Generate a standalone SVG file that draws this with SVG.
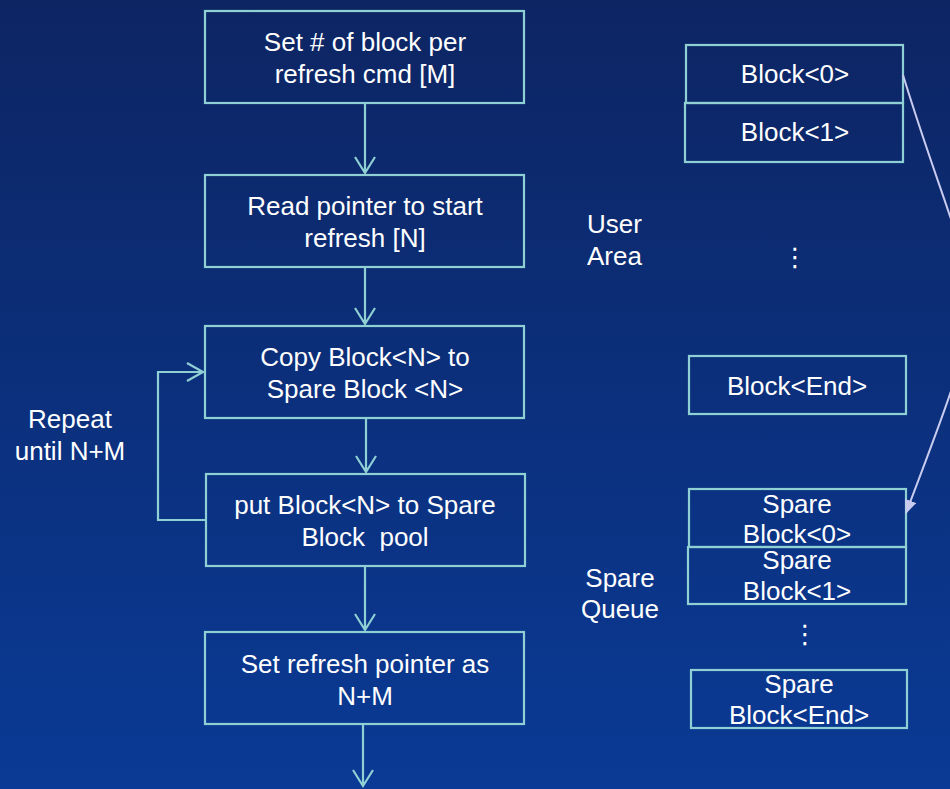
<svg xmlns="http://www.w3.org/2000/svg" width="950" height="789" viewBox="0 0 950 789">
<defs>
<linearGradient id="bg" x1="0" y1="0" x2="0" y2="1">
<stop offset="0" stop-color="#0d2563"/>
<stop offset="1" stop-color="#0a3a95"/>
</linearGradient>
<marker id="tri" viewBox="0 0 14 12" refX="13" refY="6" markerWidth="14" markerHeight="12" markerUnits="userSpaceOnUse" orient="auto">
<path d="M0,0 L14,6 L0,12 Z" fill="#c9ccef"/>
</marker>
</defs>
<style>
.box{fill:none;stroke:#8fd0d4;stroke-width:2.2}
.ln{fill:none;stroke:#8fd0d4;stroke-width:2.2}
.t{font-family:"Liberation Sans",Arial,sans-serif;font-size:26px;fill:#ffffff;text-anchor:middle}
.tl{font-family:"Liberation Sans",Arial,sans-serif;font-size:26px;fill:#ffffff}
.dots{font-family:"DejaVu Sans",sans-serif;font-size:26px;fill:#ffffff;text-anchor:middle}
</style>
<rect x="0" y="0" width="950" height="789" fill="url(#bg)"/>

<g id="n1"><rect class="box" x="205" y="11" width="319" height="92"/><text class="t" x="365" y="51">Set # of block per</text><text class="t" x="365" y="83">refresh cmd [M]</text></g>
<g id="n2"><rect class="box" x="205" y="175" width="319" height="92"/><text class="t" x="365" y="215">Read pointer to start</text><text class="t" x="365" y="247">refresh [N]</text></g>
<g id="n3"><rect class="box" x="205" y="326" width="319" height="92"/><text class="t" x="365" y="366">Copy Block&lt;N&gt; to</text><text class="t" x="365" y="398">Spare Block &lt;N&gt;</text></g>
<g id="n4"><rect class="box" x="206" y="474" width="319" height="92"/><text class="t" x="365" y="514">put Block&lt;N&gt; to Spare</text><text class="t" x="365" y="546" xml:space="preserve" style="white-space:pre">Block  pool</text></g>
<g id="n5"><rect class="box" x="205" y="632" width="319" height="92"/><text class="t" x="365" y="673">Set refresh pointer as</text><text class="t" x="365" y="705">N+M</text></g>

<g id="repeat"><text class="t" x="70" y="428">Repeat</text><text class="t" x="70" y="460">until N+M</text></g>
<g id="userarea"><text class="tl" x="587" y="233">User</text><text class="tl" x="587" y="265">Area</text></g>
<g id="sparequeue"><text class="t" x="620" y="587">Spare</text><text class="t" x="620" y="618">Queue</text></g>

<g id="b0"><rect class="box" x="686" y="45" width="217" height="58"/><text class="t" x="795" y="83">Block&lt;0&gt;</text></g>
<g id="b1"><rect class="box" x="685" y="103" width="218" height="59"/><text class="t" x="795" y="141">Block&lt;1&gt;</text></g>
<g id="udots"><text class="dots" x="795" y="266">⋮</text></g>
<g id="bend"><rect class="box" x="689" y="356" width="217" height="58"/><text class="t" x="797" y="395">Block&lt;End&gt;</text></g>

<g id="s0"><rect class="box" x="689" y="489" width="217" height="58"/><text class="t" x="797" y="513">Spare</text><text class="t" x="797" y="543">Block&lt;0&gt;</text></g>
<g id="s1"><rect class="box" x="688" y="547" width="218" height="57"/><text class="t" x="797" y="569">Spare</text><text class="t" x="797" y="600">Block&lt;1&gt;</text></g>
<g id="sdots"><text class="dots" x="805" y="643">⋮</text></g>
<g id="send"><rect class="box" x="691" y="670" width="216" height="58"/><text class="t" x="799" y="693">Spare</text><text class="t" x="799" y="724">Block&lt;End&gt;</text></g>

<g id="connectors">
<path class="ln" d="M365,103 V173 M355,157 L365,173 L375,157"/>
<path class="ln" d="M365,267 V324 M355,308 L365,324 L375,308"/>
<path class="ln" d="M366,418 V472 M356,456 L366,472 L376,456"/>
<path class="ln" d="M365,566 V630 M355,614 L365,630 L375,614"/>
<path class="ln" d="M363,725 V786 M353,770 L363,786 L373,770"/>
<path class="ln" d="M206,520 H158 V372 H203 M187,363 L203,372 L187,381"/>
<path d="M903,75 C980,325 1001,263 906,513" fill="none" stroke="#c9ccef" stroke-width="2" marker-end="url(#tri)"/>
</g>
</svg>
